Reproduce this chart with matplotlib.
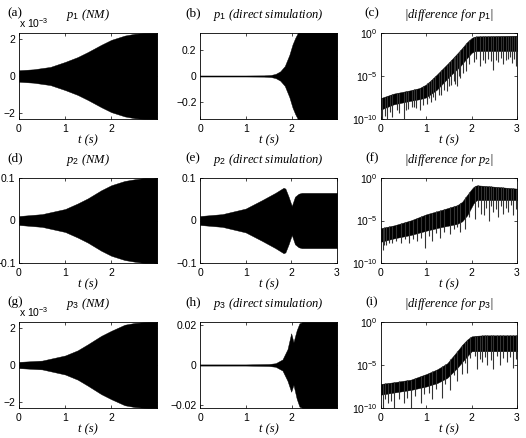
import numpy as np
import matplotlib
matplotlib.use("Agg")
import matplotlib.pyplot as plt
from matplotlib.ticker import FuncFormatter, NullLocator

plt.rcParams['font.family'] = 'Liberation Sans'
plt.rcParams['mathtext.fontset'] = 'custom'
plt.rcParams['mathtext.rm'] = 'Liberation Sans'
plt.rcParams['mathtext.it'] = 'Liberation Serif:italic'
plt.rcParams['axes.linewidth'] = 0.6

# ---- data (envelopes of the dense oscillations) ----
# (a) p1 (NM), units of 1e-3
a_t = [0, 0.31, 0.68, 1.0, 1.27, 1.49, 1.78, 2.0, 2.29, 2.51, 2.73, 2.99]
a_amp = [0.31, 0.36, 0.49, 0.76, 1.02, 1.29, 1.68, 1.95, 2.18, 2.28, 2.31, 2.32]
# (b) p1 direct simulation
b_t = [0, 1.0, 1.4, 1.55, 1.65, 1.75, 1.85, 1.95, 2.02, 2.08, 2.14, 2.99]
b_amp = [0.004, 0.004, 0.005, 0.008, 0.016, 0.035, 0.075, 0.16, 0.24, 0.29, 0.33, 0.33]
# (d) p2 (NM)
d_t = [0, 0.5, 1.0, 1.27, 1.49, 1.78, 2.0, 2.29, 2.51, 2.73, 2.99]
d_amp = [0.0105, 0.015, 0.027, 0.04, 0.052, 0.071, 0.083, 0.093, 0.097, 0.1, 0.1]
# (e) p2 direct simulation
e_t = [0, 0.49, 1.0, 1.36, 1.65, 1.83, 1.87, 1.94, 2.01, 2.08, 2.16, 2.23, 3.0]
e_amp = [0.0105, 0.015, 0.028, 0.048, 0.065, 0.077, 0.075, 0.056, 0.034, 0.056, 0.063, 0.065, 0.065]
# (g) p3 (NM), units of 1e-3
g_t = [0, 0.5, 1.0, 1.27, 1.49, 1.78, 2.0, 2.29, 2.51, 2.8, 2.99]
g_amp = [0.17, 0.24, 0.52, 0.8, 1.13, 1.59, 1.87, 2.2, 2.3, 2.35, 2.35]
# (h) p3 direct simulation
h_t = [0, 1.0, 1.5, 1.65, 1.8, 1.91, 1.99, 2.04, 2.11, 2.17, 2.24, 2.99]
h_up = [0.0003, 0.0003, 0.0005, 0.0009, 0.0028, 0.008, 0.016, 0.0115, 0.0175, 0.021, 0.0217, 0.0217]
h_lo = [-0.0003, -0.0003, -0.0005, -0.0009, -0.0028, -0.008, -0.0135, -0.010, -0.017, -0.021, -0.0217, -0.0217]

# |difference| panels, log10 exponents: band top, band bottom, downward spikes
c_t = [0, 0.28, 0.64, 0.85, 0.99, 1.1, 1.23, 1.52, 1.74, 1.9, 2.0, 2.05, 2.11, 3.0]
c_top = [-7.56, -7.05, -6.67, -6.4, -6.0, -5.5, -4.84, -3.3, -2.05, -1.05, -0.58, -0.45, -0.39, -0.31]
c_bot = [-8.9, -8.3, -7.9, -7.7, -7.5, -7.1, -6.6, -5.0, -3.9, -2.9, -2.3, -2.15, -2.1, -2.1]
c_spk_t = [0.03, 0.08, 0.13, 0.19, 0.25, 0.35, 0.40, 0.50, 0.55, 0.60, 0.68, 0.72, 0.78, 0.85,
           0.93, 1.02, 1.05, 1.10, 1.15, 1.20, 1.27, 1.33, 1.38, 1.45, 1.50, 1.55, 1.60, 1.63,
           1.68, 1.71, 1.75, 1.80, 1.88, 1.95, 2.05, 2.10, 2.18, 2.25, 2.30, 2.36, 2.42, 2.48,
           2.53, 2.58, 2.64, 2.70, 2.75, 2.80, 2.85, 2.90, 2.94, 2.97]
c_spk = [-10, -9.6, -10, -9.2, -9.8, -9.0, -9.3, -10, -9.0, -8.8, -8.6, -8.6, -8.7, -8.9,
         -8.4, -8.3, -7.6, -8.0, -7.4, -7.8, -7.2, -7.2, -6.6, -6.8, -6.2, -6.0, -5.6, -5.9,
         -6.2, -5.0, -5.2, -4.6, -4.4, -3.6, -3.4, -3.0, -3.8, -3.1, -3.5, -3.0, -3.3, -4.3,
         -3.1, -3.4, -2.9, -3.6, -3.1, -3.0, -2.8, -3.5, -3.0, -3.8]

f_t = [0, 0.29, 0.66, 1.0, 1.31, 1.68, 1.79, 1.9, 2.0, 2.04, 2.08, 2.12, 2.41, 3.0]
f_top = [-5.9, -5.57, -4.98, -4.27, -3.8, -3.2, -2.8, -2.0, -1.3, -1.06, -0.92, -0.86, -0.98, -1.25]
f_bot = [-7.5, -7.1, -6.7, -6.2, -5.8, -5.4, -5.1, -4.4, -3.4, -3.0, -2.75, -2.6, -2.6, -2.6]
f_spk_t = [0.04, 0.07, 0.11, 0.18, 0.25, 0.33, 0.44, 0.52, 0.62, 0.70, 0.80, 0.88, 0.96, 1.05,
           1.13, 1.22, 1.31, 1.40, 1.53, 1.62, 1.68, 1.75, 1.86, 1.95, 2.08, 2.15, 2.20, 2.27,
           2.32, 2.38, 2.43, 2.48, 2.53, 2.59, 2.65, 2.70, 2.76, 2.81, 2.87, 2.92, 2.97]
f_spk = [-8.5, -7.9, -7.9, -7.7, -7.6, -7.4, -7.6, -7.2, -7.7, -7.2, -7.4, -7.0, -8.2, -6.8,
         -7.4, -6.5, -7.0, -6.4, -6.6, -6.0, -5.8, -6.4, -6.0, -4.6, -4.8, -3.4, -4.2, -4.4,
         -3.5, -5.0, -3.3, -4.0, -3.6, -4.6, -3.3, -4.2, -3.5, -4.0, -3.2, -4.4, -3.6]

i_t = [0, 0.29, 0.66, 1.0, 1.24, 1.46, 1.68, 1.8, 1.9, 1.95, 2.0, 2.1, 2.26, 3.0]
i_top = [-7.2, -7.0, -6.7, -6.05, -5.5, -4.8, -3.4, -2.6, -2.05, -1.85, -1.67, -1.6, -1.55, -1.55]
i_bot = [-8.45, -8.2, -7.9, -7.5, -7.1, -6.5, -5.35, -4.6, -4.0, -3.7, -3.4, -3.4, -3.4, -3.4]
i_spk_t = [0.04, 0.09, 0.15, 0.22, 0.29, 0.40, 0.51, 0.58, 0.66, 0.75, 0.88, 0.95, 1.05, 1.13,
           1.22, 1.35, 1.42, 1.53, 1.60, 1.68, 1.79, 1.85, 1.90, 1.97, 2.07, 2.12, 2.18, 2.23,
           2.30, 2.34, 2.42, 2.48, 2.55, 2.63, 2.70, 2.77, 2.85, 2.92, 2.97]
i_spk = [-10, -9.0, -9.4, -9.2, -10, -9.0, -9.4, -8.8, -10, -8.6, -9.4, -8.4, -8.2, -9.0,
         -7.8, -8.8, -7.2, -7.9, -6.2, -6.9, -6.1, -4.8, -5.9, -4.2, -4.0, -5.5, -4.3, -4.6,
         -4.1, -5.0, -4.4, -5.5, -4.0, -5.0, -4.2, -4.6, -4.1, -5.4, -4.3]

W, H = 526, 438
fig = plt.figure(figsize=(W / 100, H / 100), dpi=100)

col_x = [(19, 157), (200, 337), (381, 517)]
row_y = [(33, 119), (178, 263), (322, 408)]
lab_x = [15, 193, 372]

serif_it = dict(family='Liberation Serif', style='italic', size=9)


def ftext(x, y, s, **kw):
    fig.text(x / W, 1 - y / H, s, **kw)


def make_ax(r, c, letter, title):
    x0, x1 = col_x[c]
    y0, y1 = row_y[r]
    ax = fig.add_axes([x0 / W, 1 - y1 / H, (x1 - x0) / W, (y1 - y0) / H])
    ax.tick_params(direction='in', top=True, right=True, length=2.5, width=0.5,
                   labelsize=7.5, pad=2.5)
    ax.tick_params(axis='x', pad=3.5)
    ftext(lab_x[c], y0 - 20, '(%s)' % letter, family='Liberation Serif', size=9.5,
          ha='center', va='center')
    ftext((x0 + x1) / 2, y0 - 18, title, ha='center', va='center', **serif_it)
    ftext((x0 + x1) / 2, y1 + 21, 't (s)', ha='center', va='center', **serif_it)
    return ax


def band(ax, t, amp, xmax, ylim, yticks, ylabels, lo=None):
    lo = [-v for v in amp] if lo is None else lo
    ax.fill_between(t, lo, amp, color='k', lw=0.3, edgecolor='k')
    ax.set_xlim(0, xmax)
    ax.set_ylim(-ylim, ylim)
    ax.set_yticks(yticks, ylabels)
    ax.set_xticks([0, 1, 2, 3][:4 if xmax >= 3 else 3])


def logband(ax, t, top, bot, spk_t, spk):
    top_v = 10.0 ** np.array(top)
    bot_v = 10.0 ** np.array(bot)
    spk_top = 10.0 ** np.interp(spk_t, t, top)
    ax.set_yscale('log')
    ax.vlines(spk_t, 10.0 ** np.array(spk), spk_top, color='0.2', lw=0.8)
    ax.fill_between(t, bot_v, top_v, color='k', lw=0.3, edgecolor='k')
    ax.set_xlim(0, 3)
    ax.set_ylim(1e-10, 1)
    ax.set_xticks([0, 1, 2, 3])
    ax.set_yticks([1e-10, 1e-5, 1])
    ax.yaxis.set_minor_locator(NullLocator())
    ax.yaxis.set_major_formatter(FuncFormatter(lambda v, _: r'$10^{%d}$' % round(np.log10(v))))


p = r'$p_{\mathit{%d}}$'

ax = make_ax(0, 0, 'a', p % 1 + ' (NM)')
band(ax, a_t, a_amp, 2.99, 2.32, [-2, 0, 2], ['\u22122', '0', '2'])
ftext(19, 23, r'x $10^{-3}$', size=7.5, ha='left', va='center')

ax = make_ax(0, 1, 'b', p % 1 + ' (direct simulation)')
band(ax, b_t, b_amp, 2.99, 0.326, [-0.2, 0, 0.2], ['\u22120.2', '0', '0.2'])

ax = make_ax(0, 2, 'c', '|difference for ' + p % 1 + '|')
logband(ax, c_t, c_top, c_bot, c_spk_t, c_spk)

ax = make_ax(1, 0, 'd', p % 2 + ' (NM)')
band(ax, d_t, d_amp, 2.99, 0.1, [-0.1, 0, 0.1], ['\u22120.1', '0', '0.1'])

ax = make_ax(1, 1, 'e', p % 2 + ' (direct simulation)')
band(ax, e_t, e_amp, 3.0, 0.1, [-0.1, 0, 0.1], ['\u22120.1', '0', '0.1'])

ax = make_ax(1, 2, 'f', '|difference for ' + p % 2 + '|')
logband(ax, f_t, f_top, f_bot, f_spk_t, f_spk)

ax = make_ax(2, 0, 'g', p % 3 + ' (NM)')
band(ax, g_t, g_amp, 2.99, 2.35, [-2, 0, 2], ['\u22122', '0', '2'])
ftext(19, 312, r'x $10^{-3}$', size=7.5, ha='left', va='center')

ax = make_ax(2, 1, 'h', p % 3 + ' (direct simulation)')
band(ax, h_t, h_up, 2.99, 0.0217, [-0.02, 0, 0.02], ['\u22120.02', '0', '0.02'], lo=h_lo)

ax = make_ax(2, 2, 'i', '|difference for ' + p % 3 + '|')
logband(ax, i_t, i_top, i_bot, i_spk_t, i_spk)

fig.savefig('out.png', dpi=100)
